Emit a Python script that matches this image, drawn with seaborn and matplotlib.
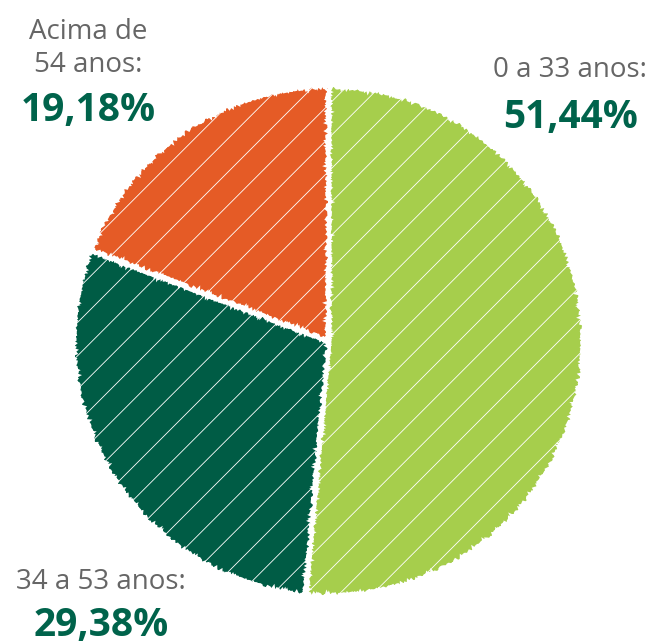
import numpy as np
import matplotlib.pyplot as plt
import seaborn as sns

sns.set_theme(style="white")
plt.rcParams["font.family"] = ["Liberation Sans Narrow", "Open Sans", "DejaVu Sans"]
plt.rcParams["hatch.linewidth"] = 0.6

# data
faixas = ["0 a 33 anos:", "34 a 53 anos:", "Acima de\n54 anos:"]
percentuais = [51.44, 29.38, 19.18]
cores = ["#A6CE4C", "#005C45", "#E55B26"]

txt_gray = "#666666"
txt_green = "#00634B"

fig = plt.figure(figsize=(6.51, 6.44), dpi=100)
ax = fig.add_axes([0.113, 0.073, 0.783, 0.795])

wedges, _ = ax.pie(percentuais, colors=cores, startangle=90, counterclock=False,
                   wedgeprops=dict(edgecolor="white", linewidth=2.5))
for w in wedges:
    w.set_hatch("/")
    w.set_sketch_params(scale=1.5, length=4, randomness=4)

ax.set_aspect("equal")
ax.set_xlim(-1.0, 1.0)
ax.set_ylim(-1.0, 1.0)
ax.axis("off")

def fmt(v):
    return "{:.2f}%".format(v).replace(".", ",")

# label positions in figure fraction (x, y of category text, y of percent)
pos = [(0.876, 0.892, 0.818), (0.155, 0.097, 0.028), (0.135, 0.925, 0.828)]
for lab, val, (x, y1, y2) in zip(faixas, percentuais, pos):
    fig.text(x, y1, lab, ha="center", va="center", fontsize=20,
             color=txt_gray, linespacing=1.25)
    fig.text(x, y2, fmt(val), ha="center", va="center", fontsize=28,
             fontweight="bold", color=txt_green)

fig.savefig("out.png", dpi=100)
